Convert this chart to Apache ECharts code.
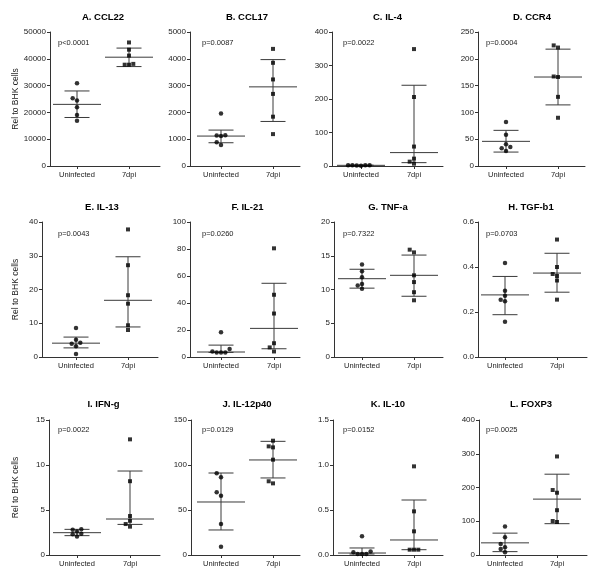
<!DOCTYPE html>
<html>
<head>
<meta charset="utf-8">
<script src="https://cdn.jsdelivr.net/npm/echarts@6/dist/echarts.min.js"></script>
<style>
html,body{margin:0;padding:0;background:#fff;}
#chart{width:600px;height:579px;}
</style>
</head>
<body>
<div id="chart"></div>
<script>
// ---------------- data ----------------
const groups = ['Uninfected', '7dpi'];
const titles = ['A. CCL22', 'B. CCL17', 'C. IL-4', 'D. CCR4', 'E. IL-13', 'F. IL-21',
                'G. TNF-a', 'H. TGF-b1', 'I. IFN-g', 'J. IL-12p40', 'K. IL-10', 'L. FOXP3'];
const pValues = ['p<0.0001', 'p=0.0087', 'p=0.0022', 'p=0.0004', 'p=0.0043', 'p=0.0260',
                 'p=0.7322', 'p=0.0703', 'p=0.0022', 'p=0.0129', 'p=0.0152', 'p=0.0025'];
const yMax = [50000, 5000, 400, 250, 40, 100, 20, 0.6, 15, 150, 1.5, 400];
const yStep = [10000, 1000, 100, 50, 10, 20, 5, 0.2, 5, 50, 0.5, 100];
const yDecimals = [0, 0, 0, 0, 0, 0, 0, 1, 0, 0, 1, 0];
const yAxisName = 'Rel to BHK cells';

const uninfected = [
  [30900, 25250, 24400, 21900, 19000, 16900],
  [1960, 1140, 1120, 1150, 890, 780],
  [2.5, 2, 1.5, 2, 1, 2],
  [82, 58.5, 40.4, 35.4, 33, 28],
  [8.6, 5.1, 3.9, 4.2, 3.2, 0.9],
  [18.3, 5.9, 3.4, 3.4, 3.4, 4.1],
  [13.7, 12.7, 11.8, 10.8, 10.6, 10.1],
  [0.418, 0.294, 0.272, 0.255, 0.248, 0.157],
  [2.85, 2.8, 2.6, 2.35, 2.3, 2.05],
  [90.7, 86.3, 69.6, 65.9, 34.4, 9.3],
  [0.207, 0.04, 0.011, 0.011, 0.011, 0.03],
  [84.8, 52.9, 32.9, 22.9, 18, 8]
];
const dpi7 = [
  [46100, 43400, 41200, 38100, 37800, 37800],
  [4370, 3850, 3230, 2690, 1840, 1190],
  [349, 206, 58, 22, 13, 7],
  [225, 221, 167, 166, 129, 90],
  [37.8, 27.2, 18.3, 15.8, 9.4, 8.0],
  [80.5, 46.1, 32.2, 10.2, 7.1, 4.1],
  [15.9, 15.5, 12.1, 11.1, 9.6, 8.4],
  [0.522, 0.4, 0.369, 0.36, 0.34, 0.255],
  [12.85, 8.2, 4.33, 3.8, 3.44, 3.15],
  [127, 120.7, 119.6, 105.9, 81.9, 79.6],
  [0.985, 0.485, 0.263, 0.059, 0.059, 0.059],
  [292, 192.5, 184.5, 132.7, 100.7, 97.8]
];
// [centre, low, high] for the error bars
const barsUninfected = [
  [23000, 18100, 28000], [1117, 868, 1340], [2, 1.5, 2.5], [46, 26, 66.5],
  [4.1, 2.7, 5.9], [3.7, 3.4, 8.8], [11.6, 10.2, 13.0], [0.276, 0.188, 0.358],
  [2.48, 2.15, 2.85], [58.9, 27.8, 91.1], [0.022, 0.011, 0.078], [36, 10, 64.8]
];
const bars7dpi = [
  [40600, 37100, 44000], [2953, 1662, 3970], [40, 10, 241], [166, 114, 218],
  [16.8, 8.9, 29.7], [21.2, 6.1, 54.6], [12.1, 9.0, 15.1], [0.373, 0.288, 0.461],
  [4.0, 3.4, 9.33], [105.6, 85.6, 126.3], [0.167, 0.059, 0.611], [165.6, 92.8, 239.4]
];

// ---------------- layout (pixels) ----------------
const rowTB = [[32, 166], [222, 357], [420, 555]];          // top, zero line
const titleY = [17, 207, 404];
const pY = [43, 234, 430];
const pX = [58, 202, 343, 486];
// axisX, uninfected x, 7dpi x, axis end
const panelX = [
  [50, 77, 129, 160], [190, 221, 273, 300], [332, 361, 414, 443], [478, 506, 558, 585],
  [42, 76, 128, 158], [190, 221, 274, 300], [334, 362, 414, 443], [478, 505, 557, 587],
  [49, 77, 130, 160], [191, 221, 273, 300], [333, 362, 414, 443], [479, 505, 557, 587]
];
const SLOT = 4.3, DOT = 4.4;
const FONT = 'Liberation Sans, Arial, sans-serif';
const INK = '#222';

function swarm(values, pxPerUnit) {
  const order = values.map((v, i) => i).sort((a, b) => values[a] - values[b]);
  const placed = [];
  const slots = new Array(values.length).fill(0);
  const cand = [0, -1, 1, -2, 2, -3, 3, -4, 4];
  for (const i of order) {
    const y = values[i] * pxPerUnit;
    for (const s of cand) {
      if (!placed.some(p => p.s === s && Math.abs(p.y - y) < DOT)) {
        placed.push({ s, y }); slots[i] = s; break;
      }
    }
  }
  return slots;
}

const grid = [], xAxis = [], yAxis = [], series = [], title = [];
for (let k = 0; k < 12; k++) {
  const r = Math.floor(k / 4), c = k % 4;
  const [ax, ux, dx, ex] = panelX[k];
  const [top, zero] = rowTB[r];
  const h = zero - top;
  const sp = dx - ux;
  grid.push({ left: ax, top: top, width: ex - ax, height: h, outerBoundsMode: 'none', containLabel: false });
  xAxis.push({
    gridIndex: k, type: 'value',
    min: -(ux - ax) / sp, max: 1 + (ex - dx) / sp,
    splitLine: { show: false },
    axisLine: { show: true, onZero: false, lineStyle: { color: '#333', width: 1 } },
    axisTick: { show: true, length: 3, customValues: [0, 1], lineStyle: { color: '#333' } },
    axisLabel: { customValues: [0, 1], formatter: v => groups[Math.round(v)] || '',
                 fontSize: 7.5, fontFamily: FONT, color: INK, margin: 5 }
  });
  yAxis.push({
    gridIndex: k, type: 'value', min: 0, max: yMax[k], interval: yStep[k],
    name: c === 0 ? yAxisName : '', nameLocation: 'middle', nameGap: ax - 20,
    nameTextStyle: { fontSize: 8.5, fontFamily: FONT, color: INK },
    splitLine: { show: false },
    axisLine: { show: true, onZero: false, lineStyle: { color: '#333', width: 1 } },
    axisTick: { show: true, length: 3, lineStyle: { color: '#333' } },
    axisLabel: { formatter: v => v.toFixed(yDecimals[k]), fontSize: 8, fontFamily: FONT, color: INK, margin: 4 }
  });
  const ppu = h / yMax[k];
  const sU = swarm(uninfected[k], ppu), sD = swarm(dpi7[k], ppu);
  // error bars
  series.push({
    type: 'custom', xAxisIndex: k, yAxisIndex: k, z: 2, silent: true,
    data: [[0].concat(barsUninfected[k]), [1].concat(bars7dpi[k])],
    renderItem: function (params, api) {
      const x = api.value(0);
      const cP = api.coord([x, api.value(1)]);
      const lo = api.coord([x, api.value(2)]);
      const hi = api.coord([x, api.value(3)]);
      const st = { stroke: '#3a3a3a', lineWidth: 1 };
      const L = (x1, y1, x2, y2) => ({ type: 'line', shape: { x1, y1, x2, y2 }, style: st });
      return { type: 'group', children: [
        L(cP[0] - 24, cP[1], cP[0] + 24, cP[1]),
        L(cP[0], lo[1], cP[0], hi[1]),
        L(hi[0] - 12.5, hi[1], hi[0] + 12.5, hi[1]),
        L(lo[0] - 12.5, lo[1], lo[0] + 12.5, lo[1])
      ] };
    }
  });
  series.push({
    type: 'scatter', xAxisIndex: k, yAxisIndex: k, z: 3, silent: true,
    symbol: 'circle', symbolSize: 4.5, itemStyle: { color: '#000' },
    data: uninfected[k].map((v, i) => [0 + sU[i] * SLOT / sp, v])
  });
  series.push({
    type: 'scatter', xAxisIndex: k, yAxisIndex: k, z: 3, silent: true,
    symbol: 'rect', symbolSize: 4, itemStyle: { color: '#000' },
    data: dpi7[k].map((v, i) => [1 + sD[i] * SLOT / sp, v])
  });
  title.push({
    text: titles[k], left: (ux + dx) / 2, top: titleY[r], textAlign: 'center', textVerticalAlign: 'middle',
    padding: 0,
    textStyle: { fontSize: 9.5, fontWeight: 'bold', fontFamily: FONT, color: '#000' }
  });
  title.push({
    text: pValues[k], left: pX[c], top: pY[r], textVerticalAlign: 'middle', padding: 0,
    textStyle: { fontSize: 7.5, fontWeight: 'normal', fontFamily: FONT, color: INK }
  });
}

const chart = echarts.init(document.getElementById('chart'), null, { renderer: 'canvas' });
chart.setOption({
  animation: false,
  backgroundColor: '#fff',
  title, grid, xAxis, yAxis, series
});
</script>
</body>
</html>
